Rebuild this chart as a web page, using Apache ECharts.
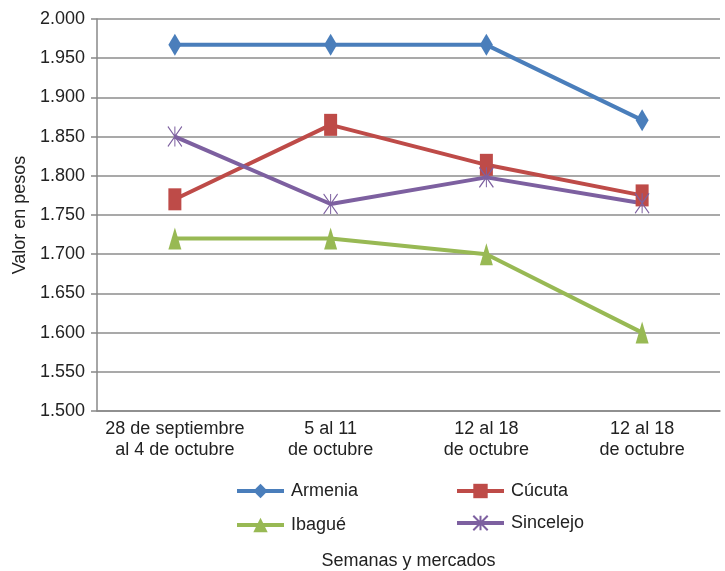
<!DOCTYPE html>
<html><head><meta charset="utf-8">
<script src="https://cdn.jsdelivr.net/npm/echarts@6/dist/echarts.min.js"></script>
<style>html,body{margin:0;padding:0;background:#fff}#c{width:725px;height:571px}</style>
</head><body><div id="c"></div>
<script>
const categories = ["28 de septiembre\nal 4 de octubre", "5 al 11\nde octubre", "12 al 18\nde octubre", "12 al 18\nde octubre"];
const armenia = [1.967, 1.967, 1.967, 1.871];
const cucuta = [1.770, 1.865, 1.814, 1.775];
const ibague = [1.720, 1.720, 1.700, 1.600];
const sincelejo = [1.850, 1.764, 1.798, 1.765];
const yTicks = {min: 1.5, max: 2.0, interval: 0.05};

const font = "Liberation Sans, Arial, sans-serif";
const chart = echarts.init(document.getElementById('c'));
function ser(name, data, color, symbol, size, extra) {
  return Object.assign({
    name, type: 'line', data, symbol, symbolSize: size,
    lineStyle: {color, width: 4},
    itemStyle: {color},
    emphasis: {disabled: true},
    animation: false
  }, extra || {});
}
const xPath = 'path://M0,0L10,10M10,0L0,10M5,0L5,10';
const legendBase = {
  orient: 'horizontal', itemWidth: 47, itemHeight: 18, itemGap: 0, padding: 0,
  lineStyle: {width: 4},
  textStyle: {fontFamily: font, fontSize: 18, color: '#222', padding: [0, 0, 0, 2]}
};
chart.setOption({
  animation: false,
  grid: {left: 97, top: 19, right: 5, bottom: 160, outerBoundsMode: 'none', containLabel: false},
  legend: [
    Object.assign({data: ['Armenia'], left: 235, top: 482}, legendBase),
    Object.assign({data: ['Cúcuta'], left: 455, top: 482}, legendBase),
    Object.assign({data: ['Ibagué'], left: 235, top: 516}, legendBase),
    Object.assign({data: ['Sincelejo'], left: 455, top: 514}, legendBase)
  ],
  xAxis: {
    type: 'category', data: categories, boundaryGap: true,
    name: 'Semanas y mercados', nameLocation: 'middle', nameGap: 141,
    nameTextStyle: {fontFamily: font, fontSize: 18, color: '#222'},
    axisLine: {lineStyle: {color: '#888', width: 1.5}},
    axisTick: {show: false},
    axisLabel: {fontFamily: font, fontSize: 18, color: '#222', lineHeight: 21, margin: 8, interval: 0}
  },
  yAxis: {
    type: 'value', min: yTicks.min, max: yTicks.max, interval: yTicks.interval,
    name: 'Valor en pesos', nameLocation: 'middle', nameGap: 68,
    nameTextStyle: {fontFamily: font, fontSize: 18, color: '#222'},
    axisLine: {show: true, lineStyle: {color: '#888', width: 1.5}},
    axisTick: {show: true, length: 6, lineStyle: {color: '#888', width: 1.5}},
    splitLine: {lineStyle: {color: '#8c8c8c', width: 1.5}},
    axisLabel: {fontFamily: font, fontSize: 18, color: '#222', margin: 12,
      formatter: v => v.toFixed(3)}
  },
  series: [
    ser('Armenia', armenia, '#4A7EBB', 'diamond', [13, 22]),
    ser('Cúcuta', cucuta, '#BE4B48', 'rect', [13, 22]),
    ser('Ibagué', ibague, '#98B954', 'triangle', [13, 22]),
    ser('Sincelejo', sincelejo, '#7D60A0', xPath, [14, 20],
      {itemStyle: {color: '#7D60A0', borderColor: '#7D60A0', borderWidth: 1.2}})
  ]
});
</script></body></html>
